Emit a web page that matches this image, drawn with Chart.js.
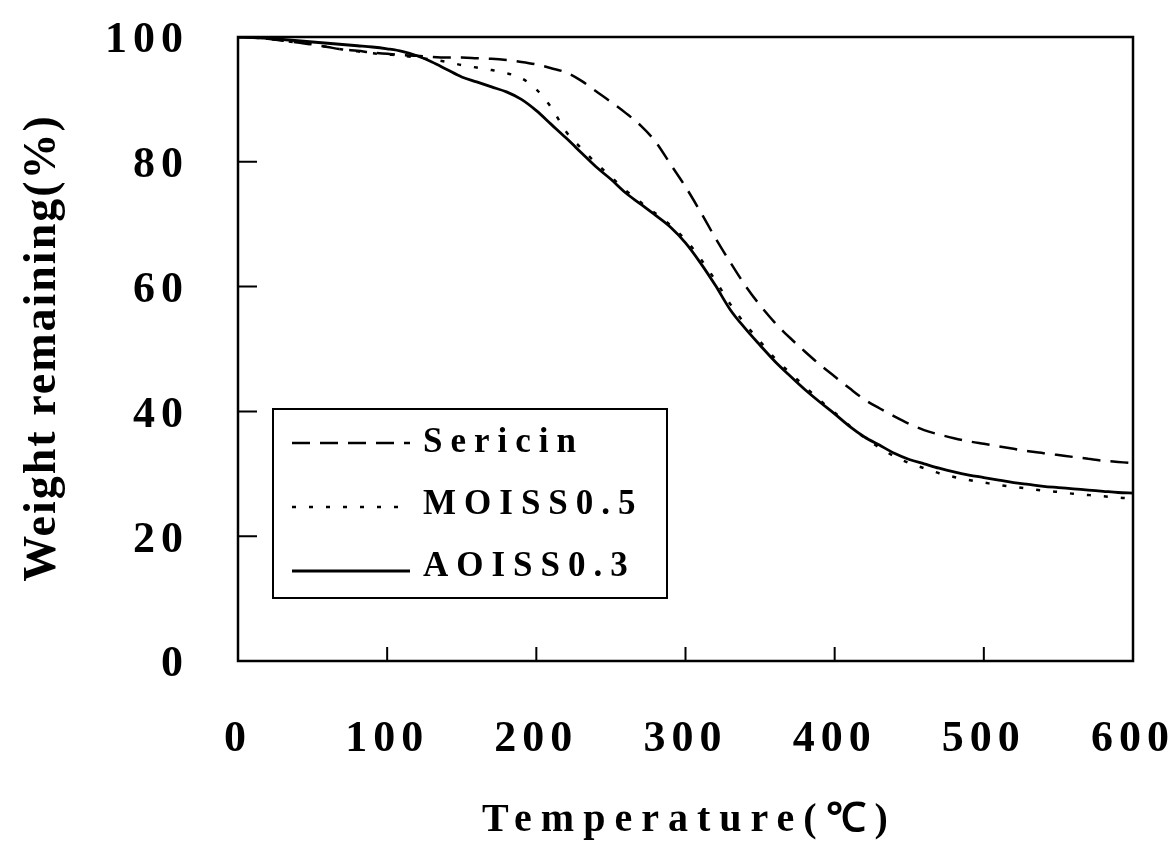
<!DOCTYPE html>
<html>
<head>
<meta charset="utf-8">
<script src="https://cdn.jsdelivr.net/npm/chart.js@4.4.1/dist/chart.umd.min.js"></script>
<style>
  html, body { margin: 0; padding: 0; background: #fff; }
  #wrap { width: 1176px; height: 845px; }
</style>
</head>
<body>
<div id="wrap"><canvas id="tga" width="1176" height="845"></canvas></div>
<script>
// temperature (°C) and weight remaining (%)
const temps = [0, 10, 20, 30, 40, 50, 60, 70, 80, 90, 100, 110, 120, 130, 140, 150, 160, 170, 180, 190,
  200, 210, 220, 230, 240, 250, 260, 270, 280, 290, 300, 310, 320, 330, 340, 350, 360, 370, 380, 390,
  400, 410, 420, 430, 440, 450, 460, 470, 480, 490, 500, 510, 520, 530, 540, 550, 560, 570, 580, 590, 600];

const sericin = [100, 99.9, 99.7, 99.4, 99.1, 98.8, 98.4, 98.0, 97.8, 97.5, 97.3, 97.1, 97.0, 96.8, 96.7, 96.7, 96.6, 96.5, 96.3, 96.0,
  95.6, 95.0, 94.3, 93.0, 91.3, 89.6, 87.8, 85.8, 83.2, 79.6, 76.0, 72.0, 67.8, 63.9, 60.2, 57.0, 54.2, 51.8, 49.6, 47.5,
  45.6, 43.7, 41.9, 40.5, 39.2, 38.0, 37.0, 36.3, 35.7, 35.2, 34.8, 34.4, 34.0, 33.6, 33.3, 33.0, 32.7, 32.4, 32.1, 31.9, 31.7];

const moiss = [100, 99.9, 99.7, 99.4, 99.1, 98.8, 98.4, 98.0, 97.7, 97.4, 97.2, 97.0, 96.7, 96.4, 96.0, 95.5, 95.1, 94.7, 94.2, 93.4,
  91.6, 88.7, 84.8, 82.2, 79.8, 77.6, 75.4, 73.5, 71.7, 69.8, 67.5, 64.5, 61.0, 57.2, 54.0, 51.2, 48.5, 46.2, 44.0, 41.8,
  39.8, 37.7, 35.8, 34.2, 32.8, 31.7, 30.9, 30.1, 29.5, 29.0, 28.6, 28.2, 27.9, 27.6, 27.3, 27.1, 26.8, 26.6, 26.4, 26.2, 26.0];

const aoiss = [100, 99.9, 99.8, 99.6, 99.4, 99.2, 99.0, 98.8, 98.6, 98.4, 98.1, 97.7, 97.0, 96.0, 94.8, 93.6, 92.8, 92.0, 91.2, 90.0,
  88.2, 86.0, 83.8, 81.5, 79.2, 77.2, 75.0, 73.2, 71.4, 69.5, 67.0, 63.8, 60.2, 56.3, 53.3, 50.6, 48.0, 45.7, 43.5, 41.5,
  39.6, 37.6, 35.9, 34.6, 33.3, 32.3, 31.6, 30.9, 30.3, 29.8, 29.4, 29.0, 28.6, 28.3, 28.0, 27.8, 27.6, 27.4, 27.2, 27.0, 26.9];

const seriesNames = ['Sericin', 'MOISS0.5', 'AOISS0.3'];
const xTitle = 'Temperature(℃)';
const yTitle = 'Weight remaining(%)';

const serif = '"Liberation Serif", "Times New Roman", serif';

function toPoints(values) {
  return temps.map((t, i) => ({ x: t, y: values[i] }));
}

// frame with inward ticks, axis titles and the boxed legend
const decorations = {
  id: 'decorations',
  beforeDraw(chart) {
    chart.ctx.letterSpacing = '6px'; // spaced-out tick labels
  },
  afterDraw(chart) {
    const { ctx, chartArea: a, scales: { x, y } } = chart;
    ctx.save();
    ctx.strokeStyle = '#000';
    ctx.fillStyle = '#000';
    ctx.setLineDash([]);
    ctx.lineWidth = 2.5;
    ctx.strokeRect(a.left, a.top, a.width, a.height);

    ctx.lineWidth = 2;
    ctx.beginPath();
    x.ticks.forEach(t => {
      const px = x.getPixelForValue(t.value);
      ctx.moveTo(px, a.bottom);
      ctx.lineTo(px, a.bottom - 14);
    });
    y.ticks.forEach(t => {
      const py = y.getPixelForValue(t.value);
      ctx.moveTo(a.left, py);
      ctx.lineTo(a.left + 19, py);
    });
    ctx.stroke();

    // axis titles
    ctx.textAlign = 'center';
    ctx.textBaseline = 'alphabetic';
    ctx.font = 'bold 40px ' + serif;
    ctx.letterSpacing = '9px';
    ctx.fillText(xTitle, (a.left + a.right) / 2 + 4, 831);

    ctx.save();
    ctx.translate(55, (a.top + a.bottom) / 2);
    ctx.rotate(-Math.PI / 2);
    ctx.font = 'bold 46px ' + serif;
    ctx.letterSpacing = '2px';
    ctx.fillText(yTitle, 1, 0);
    ctx.restore();

    // legend box
    const box = { left: 273, top: 409, width: 394, height: 189 };
    ctx.lineWidth = 2;
    ctx.strokeRect(box.left, box.top, box.width, box.height);
    ctx.font = 'bold 35px ' + serif;
    ctx.letterSpacing = '8px';
    ctx.textAlign = 'left';
    ctx.textBaseline = 'middle';
    chart.data.datasets.forEach((ds, i) => {
      const rowY = box.top + 34 + i * 62;
      ctx.save();
      ctx.lineWidth = ds.borderWidth;
      ctx.setLineDash(ds.borderDash || []);
      ctx.beginPath();
      ctx.moveTo(292, rowY + i * 2);
      ctx.lineTo(410, rowY + i * 2);
      ctx.stroke();
      ctx.restore();
      ctx.fillText(ds.label, 423, rowY);
    });
    ctx.restore();
  }
};

const chart = new Chart(document.getElementById('tga'), {
  type: 'line',
  data: {
    datasets: [
      { label: seriesNames[0], data: toPoints(sericin), borderDash: [18, 10], borderWidth: 2.5 },
      { label: seriesNames[1], data: toPoints(moiss), borderDash: [4, 13], borderWidth: 2.5 },
      { label: seriesNames[2], data: toPoints(aoiss), borderWidth: 2.8 }
    ]
  },
  options: {
    responsive: false,
    animation: false,
    layout: { padding: { top: 37, right: 43, left: 0, bottom: 0 } },
    elements: {
      point: { radius: 0 },
      line: { borderColor: '#000', tension: 0.3, cubicInterpolationMode: 'monotone', fill: false }
    },
    plugins: {
      legend: { display: false },
      tooltip: { enabled: false }
    },
    scales: {
      x: {
        type: 'linear',
        min: 0,
        max: 600,
        grid: { display: false, drawTicks: false },
        border: { display: false },
        ticks: {
          stepSize: 100,
          maxRotation: 0,
          padding: 52,
          color: '#000',
          font: { family: serif, size: 44, weight: 'bold' }
        },
        afterFit(scale) {
          scale.height = 184;
          scale.paddingLeft = 0;
          scale.paddingRight = 0;
        }
      },
      y: {
        min: 0,
        max: 100,
        grid: { display: false, drawTicks: false },
        border: { display: false },
        ticks: {
          stepSize: 20,
          padding: 49,
          labelOffset: 4,
          color: '#000',
          font: { family: serif, size: 44, weight: 'bold' }
        },
        afterFit(scale) {
          scale.width = 238;
          scale.paddingTop = 0;
          scale.paddingBottom = 0;
        }
      }
    }
  },
  plugins: [decorations]
});
</script>
</body>
</html>
